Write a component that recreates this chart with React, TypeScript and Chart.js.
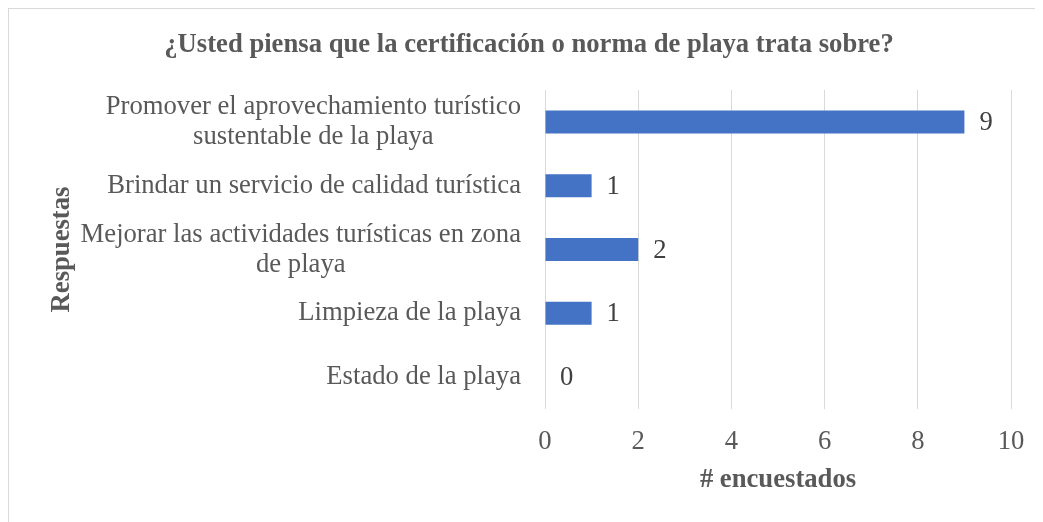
import React, { useEffect, useRef } from "react";
import { Chart, registerables } from "chart.js";

Chart.register(...registerables);

const chartTitle = "¿Usted piensa que la certificación o norma de playa trata sobre?";
const yAxisTitle = "Respuestas";
const xAxisTitle = "# encuestados";
const categories: string[][] = [
  ["Promover el aprovechamiento turístico", "sustentable de la playa"],
  ["Brindar un servicio de calidad turística"],
  ["Mejorar las actividades turísticas en zona", "de playa"],
  ["Limpieza de la playa"],
  ["Estado de la playa"],
];
const counts: number[] = [9, 1, 2, 1, 0];
const xMin = 0;
const xMax = 10;
const xStep = 2;

const FONT = "'Liberation Serif', 'Times New Roman', serif";
const GRAY = "#595959";
const FS = 26.67;

const labelPlugin = {
  id: "customLabels",
  afterDraw(chart: any) {
    const ctx = chart.ctx;
    const yScale = chart.scales.y;
    ctx.save();
    ctx.font = `${FS}px ${FONT}`;
    ctx.fillStyle = GRAY;
    ctx.textBaseline = "middle";
    ctx.textAlign = "center";
    const lh = 30;
    const rightEdge = yScale.right - 24;
    categories.forEach((lines, i) => {
      const yc = yScale.getPixelForTick(i);
      const w = Math.max(...lines.map((l) => ctx.measureText(l).width));
      const cx = rightEdge - w / 2;
      lines.forEach((l, j) => {
        ctx.fillText(l, cx, yc + (j - (lines.length - 1) / 2) * lh);
      });
    });
    ctx.fillStyle = "#404040";
    ctx.textAlign = "left";
    const meta = chart.getDatasetMeta(0);
    meta.data.forEach((bar: any, i: number) => {
      ctx.fillText(String(counts[i]), bar.x + 15, bar.y + 1);
    });
    ctx.restore();
  },
};

export default function App() {
  const ref = useRef<HTMLCanvasElement>(null);
  useEffect(() => {
    if (!ref.current) return;
    const chart = new Chart(ref.current, {
      type: "bar",
      data: {
        labels: categories.map((c) => c.join(" ")),
        datasets: [
          {
            data: counts,
            backgroundColor: "#4472C4",
            barPercentage: 0.36,
            categoryPercentage: 1,
          },
        ],
      },
      options: {
        indexAxis: "y",
        animation: false,
        responsive: false,
        layout: { padding: { left: 38, right: 32, top: 0, bottom: 0 } },
        plugins: {
          legend: { display: false },
          tooltip: { enabled: false },
          title: {
            display: true,
            text: chartTitle,
            color: GRAY,
            font: { family: FONT, size: FS, weight: "bold", lineHeight: 1.2 },
            padding: { top: 20, bottom: 29 },
          },
        },
        scales: {
          x: {
            min: xMin,
            max: xMax,
            ticks: {
              stepSize: xStep,
              color: GRAY,
              font: { family: FONT, size: FS, lineHeight: 1.2 },
              padding: 16.7,
            },
            grid: { color: "#d9d9d9", drawTicks: false, lineWidth: 1 },
            border: { display: false },
            title: {
              display: true,
              text: xAxisTitle,
              color: GRAY,
              font: { family: FONT, size: FS, weight: "bold", lineHeight: 1.2 },
              padding: { top: 0, bottom: 26 },
            },
            afterFit: (s: any) => {
              s.height = 113;
            },
          },
          y: {
            ticks: { display: false },
            grid: { display: false },
            border: { display: false },
            title: {
              display: true,
              text: yAxisTitle,
              color: GRAY,
              font: { family: FONT, size: FS, weight: "bold", lineHeight: 1.13 },
              padding: { top: 0, bottom: 0 },
            },
            afterFit: (s: any) => {
              s.width = 498;
            },
          },
        },
      },
      plugins: [labelPlugin],
    });
    return () => chart.destroy();
  }, []);
  return (
    <div
      style={{
        width: 1034,
        height: 513,
        borderTop: "1px solid #d9d9d9",
        borderLeft: "1px solid #d9d9d9",
        background: "#fff",
      }}
    >
      <canvas ref={ref} width={1034} height={513} style={{ display: "block" }} />
    </div>
  );
}
